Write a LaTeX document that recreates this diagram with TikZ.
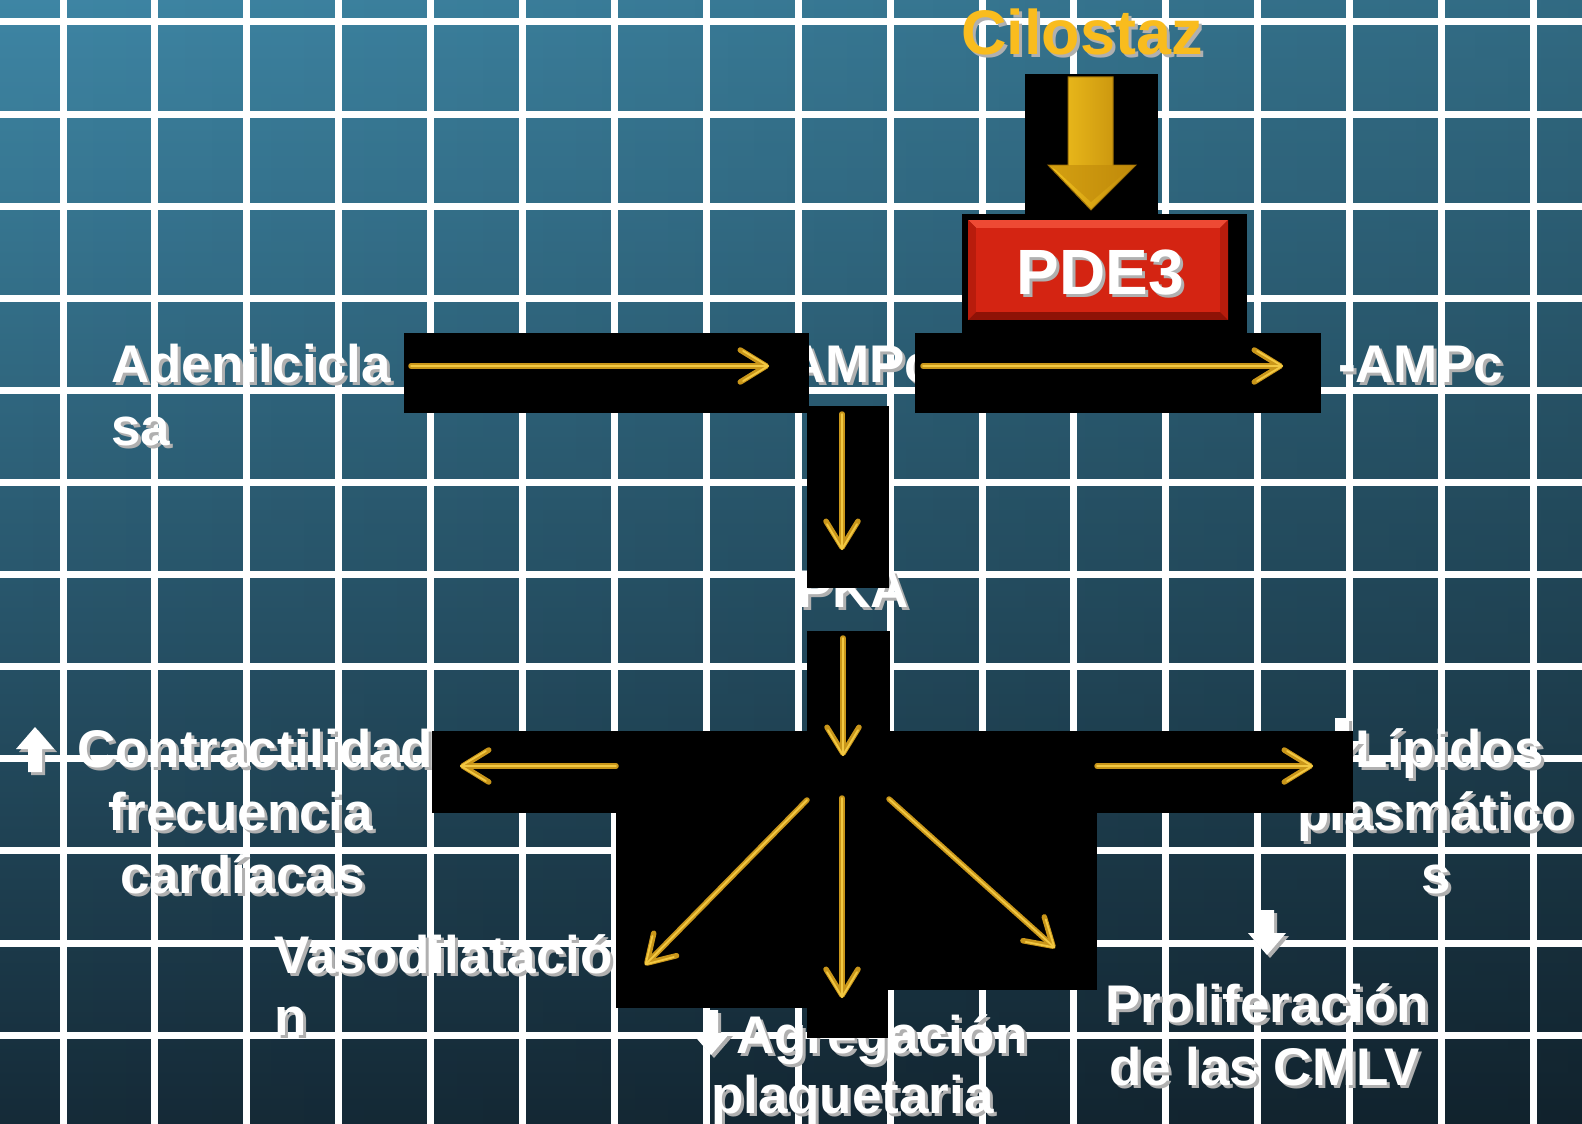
\documentclass[tikz,border=0pt]{standalone}
\usepackage{fontspec}
\setmainfont{Liberation Sans}
\usetikzlibrary{arrows.meta,fadings}

\definecolor{bgtop}{HTML}{3F88A7}
\definecolor{bgmid}{HTML}{2A6078}
\definecolor{bgbot}{HTML}{152A37}
\definecolor{shadowc}{HTML}{B0B0B0}
\definecolor{goldd}{HTML}{C9961A}
\definecolor{goldl}{HTML}{F2C842}
\definecolor{bgold1}{HTML}{F2C21E}
\definecolor{bgold2}{HTML}{FFE566}
\definecolor{bgold3}{HTML}{C08A0A}
\definecolor{cilo}{HTML}{F9BC1E}
\definecolor{pdered}{HTML}{D42412}
\definecolor{pdelight}{HTML}{EE4A34}
\definecolor{pdemid}{HTML}{B81C0C}
\definecolor{pdedark}{HTML}{8E1206}

\tikzfading[name=fadeR, left color=transparent!100, right color=transparent!0]

\tikzset{
  txt/.style={inner sep=0pt, outer sep=0pt, anchor=base west, text=white,
    font=\fontsize{53}{63}\selectfont\bfseries},
  gridline/.style={white, line width=7pt},
  blackbox/.style={fill=black},
  goldout/.style={draw=goldd, line width=5.5pt, line cap=round,
    -{Straight Barb[length=26pt,width=32pt,round]}},
  goldin/.style={draw=goldl, line width=1.8pt, line cap=round,
    -{Straight Barb[length=25pt,width=30pt,round]}},
  pics/blkdown/.style={code={
    \fill (-7,0) -- (7,0) -- (7,23) -- (19,23) -- (0,45) -- (-19,23) -- (-7,23) -- cycle;}},
  pics/blkup/.style={code={
    \fill (-7,0) -- (7,0) -- (7,-23) -- (19,-23) -- (0,-45) -- (-19,-23) -- (-7,-23) -- cycle;}},
}

\newcommand\shtext[4]{%
  \node[txt,#3,text=shadowc,xshift=3pt,yshift=-3pt] (#1s) at (#2) {#4};
  \node[txt,#3] (#1) at (#2) {#4};}
\newcommand\goldarrow[2]{%
  \draw[goldout] (#1) -- (#2);
  \draw[goldin] (#1) -- (#2);}

\begin{document}
\begin{tikzpicture}[x=1pt,y=-1pt]
\useasboundingbox (0,0) rectangle (1582,1124);
\clip (0,0) rectangle (1582,1124);

% background
\shade[top color=bgtop, middle color=bgmid, bottom color=bgbot] (-10,-10) rectangle (1600,1140);
\fill[black, opacity=0.22, path fading=fadeR] (-40,-40) rectangle (1640,1160);

% grid
\foreach \i in {0,...,16} \draw[gridline] ({63+91.9*\i},-5) -- ({63+91.9*\i},1130);
\foreach \j in {0,...,12} \draw[gridline] (-5,{22+92.1*\j}) -- (1590,{22+92.1*\j});

% texts
\shtext{cilo}{1082,55}{anchor=base,text=cilo,font=\fontsize{63}{70}\selectfont\bfseries}{Cilostaz}
\shtext{aden1}{111,382}{}{Adenilcicla}
\shtext{aden2}{111,445}{}{sa}
\shtext{ampc}{787,382}{}{AMPc}
\shtext{ampc5}{1338,382}{}{-AMPc}
\shtext{pka}{797,607}{}{PKA}
\shtext{con1}{77,767}{}{Contractilidad}
\shtext{con2}{108,830}{}{frecuencia}
\shtext{con3}{120,893}{}{cardíacas}
\shtext{vas1}{274,973}{}{Vasodilatació}
\shtext{vas2}{274,1035}{}{n}
\shtext{agr1}{736,1053}{}{Agregación}
\shtext{agr2}{711,1113}{}{plaquetaria}
\shtext{lip1}{1355,767}{}{Lípidos}
\shtext{lip2}{1297,830}{}{plasmático}
\shtext{lip3}{1421,893}{}{s}
\shtext{pro1}{1105,1022}{}{Proliferación}
\shtext{pro2}{1109,1085}{}{de las CMLV}

% white block arrows
\pic[shadowc] at (38,775) {blkup};
\pic[white] at (35,772) {blkup};
\pic[shadowc] at (714,1013) {blkdown};
\pic[white] at (711,1010) {blkdown};
\pic[shadowc] at (1270,913) {blkdown};
\pic[white] at (1267,910) {blkdown};
\pic[shadowc] at (1345,721) {blkdown};
\pic[white] at (1342,718) {blkdown};

% black boxes
\fill[blackbox] (1025,74) rectangle (1158,226);
\fill[blackbox] (962,214) rectangle (1247,338);
\fill[blackbox] (404,333) rectangle (809,413);
\fill[blackbox] (915,333) rectangle (1321,413);
\fill[blackbox] (807,406) rectangle (889,588);
\fill[blackbox] (807,631) rectangle (890,735);
\fill[blackbox] (432,731) rectangle (807,813);
\fill[blackbox] (616,731) rectangle (807,1008);
\fill[blackbox] (807,731) rectangle (888,1038);
\fill[blackbox] (888,731) rectangle (1097,990);
\fill[blackbox] (1097,731) rectangle (1353,813);

% big gold arrow
\shade[left color=bgold1, middle color=bgold2, right color=bgold3, draw=bgold3!80!black, line width=1pt]
  (1068,77) -- (1113,77) -- (1113,165) -- (1136,165) -- (1091,210) -- (1048,165) -- (1068,165) -- cycle;
\fill[bgold3, opacity=0.6] (1048,165) -- (1136,165) -- (1128,170) -- (1091,202) -- (1056,170) -- cycle;

% PDE3 box
\fill[pdedark] (968,220) rectangle (1228,320);
\fill[pdelight] (968,220) -- (1228,220) -- (1220,228) -- (976,228) -- cycle;
\fill[pdemid] (968,220) -- (976,228) -- (976,312) -- (968,320) -- cycle;
\fill[pdemid] (1228,220) -- (1220,228) -- (1220,312) -- (1228,320) -- cycle;
\fill[pdered] (976,228) rectangle (1220,312);
\shtext{pde}{1100,294}{anchor=base,font=\fontsize{64}{70}\selectfont\bfseries}{PDE3}

% arrow end points
\coordinate (a1s) at (411,366);  \coordinate (a1e) at (769,366);
\coordinate (a2s) at (923,366);  \coordinate (a2e) at (1283,366);
\coordinate (a3s) at (842,414);  \coordinate (a3e) at (842,550);
\coordinate (a4s) at (843,638);  \coordinate (a4e) at (843,756);
\coordinate (a5s) at (616,766);  \coordinate (a5e) at (460,766);
\coordinate (a6s) at (1097,766); \coordinate (a6e) at (1313,766);
\coordinate (a7s) at (807,800);  \coordinate (a7e) at (645,965);
\coordinate (a8s) at (842,798);  \coordinate (a8e) at (842,998);
\coordinate (a9s) at (889,799);  \coordinate (a9e) at (1055,948);

\goldarrow{a1s}{a1e}
\goldarrow{a2s}{a2e}
\goldarrow{a3s}{a3e}
\goldarrow{a4s}{a4e}
\goldarrow{a5s}{a5e}
\goldarrow{a6s}{a6e}
\goldarrow{a7s}{a7e}
\goldarrow{a8s}{a8e}
\goldarrow{a9s}{a9e}
\end{tikzpicture}
\end{document}
